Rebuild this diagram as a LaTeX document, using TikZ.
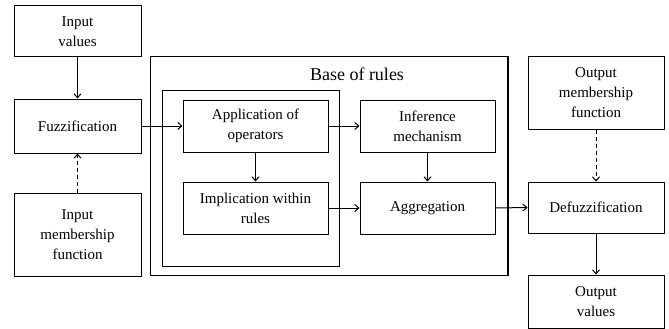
\documentclass[tikz,border=0pt]{standalone}
\usepackage{fontspec}
\setmainfont{Liberation Serif}
\usetikzlibrary{arrows.meta}

\tikzset{
    blk/.style={draw, line width=1pt, align=center, inner sep=0pt, font=\fontsize{15}{20}\selectfont},
    flow/.style={line width=1pt, -{Straight Barb[length=4pt,width=7pt]}},
    mflow/.style={flow, dashed, dash pattern=on 4pt off 3pt}
}

\begin{document}
\begin{tikzpicture}[x=1pt, y=-1pt]
            \useasboundingbox (0,0) rectangle (669,329);

            \node (inval) at (77.5,31.5) [blk, minimum width=127pt, minimum height=51pt] {Input\\values};
            \node (fuzz) at (77.5,126) [blk, minimum width=127pt, minimum height=54pt] {Fuzzification};
            \node (inmf) at (77.5,234.5) [blk, minimum width=127pt, minimum height=83pt] {Input\\membership\\function};

            \node (base) at (328.5,166) [draw, line width=1pt, minimum width=357pt, minimum height=218pt] {};
            \draw [line width=2pt] (base.north east) -- (base.south east);
            \node (baselbl) at (357,74) [font=\fontsize{18}{22}\selectfont] {Base of rules};
            \node (inner) at (250.5,178) [draw, line width=1pt, minimum width=177pt, minimum height=176pt] {};

            \node (app) at (255.5,126) [blk, minimum width=145pt, minimum height=52pt] {Application of\\operators};
            \node (impl) at (255.5,208) [blk, minimum width=145pt, minimum height=52pt] {Implication within\\rules};
            \node (infer) at (427.5,126) [blk, minimum width=135pt, minimum height=52pt] {Inference\\mechanism};
            \node (aggr) at (427.5,208) [blk, minimum width=135pt, minimum height=52pt] {Aggregation};

            \node (outmf) at (596,93) [blk, minimum width=136pt, minimum height=72pt] {Output\\membership\\function};
            \node (defuzz) at (596,207.5) [blk, minimum width=136pt, minimum height=51pt] {Defuzzification};
            \node (outval) at (596,301.5) [blk, minimum width=136pt, minimum height=53pt] {Output\\values};

            \foreach \a/\b in {inval/fuzz, app/impl, infer/aggr, defuzz/outval}
                {
                    \draw [flow] (\a) -- (\b);
                }

            \foreach \a/\b in {fuzz/app, app/infer, impl/aggr, aggr/defuzz}
                {
                    \draw [flow] (\a.east) -- (\b.west);
                }

                \draw [mflow] (inmf) -- (fuzz);
                \draw [mflow] (outmf) -- (defuzz);

        \end{tikzpicture}
\end{document}
